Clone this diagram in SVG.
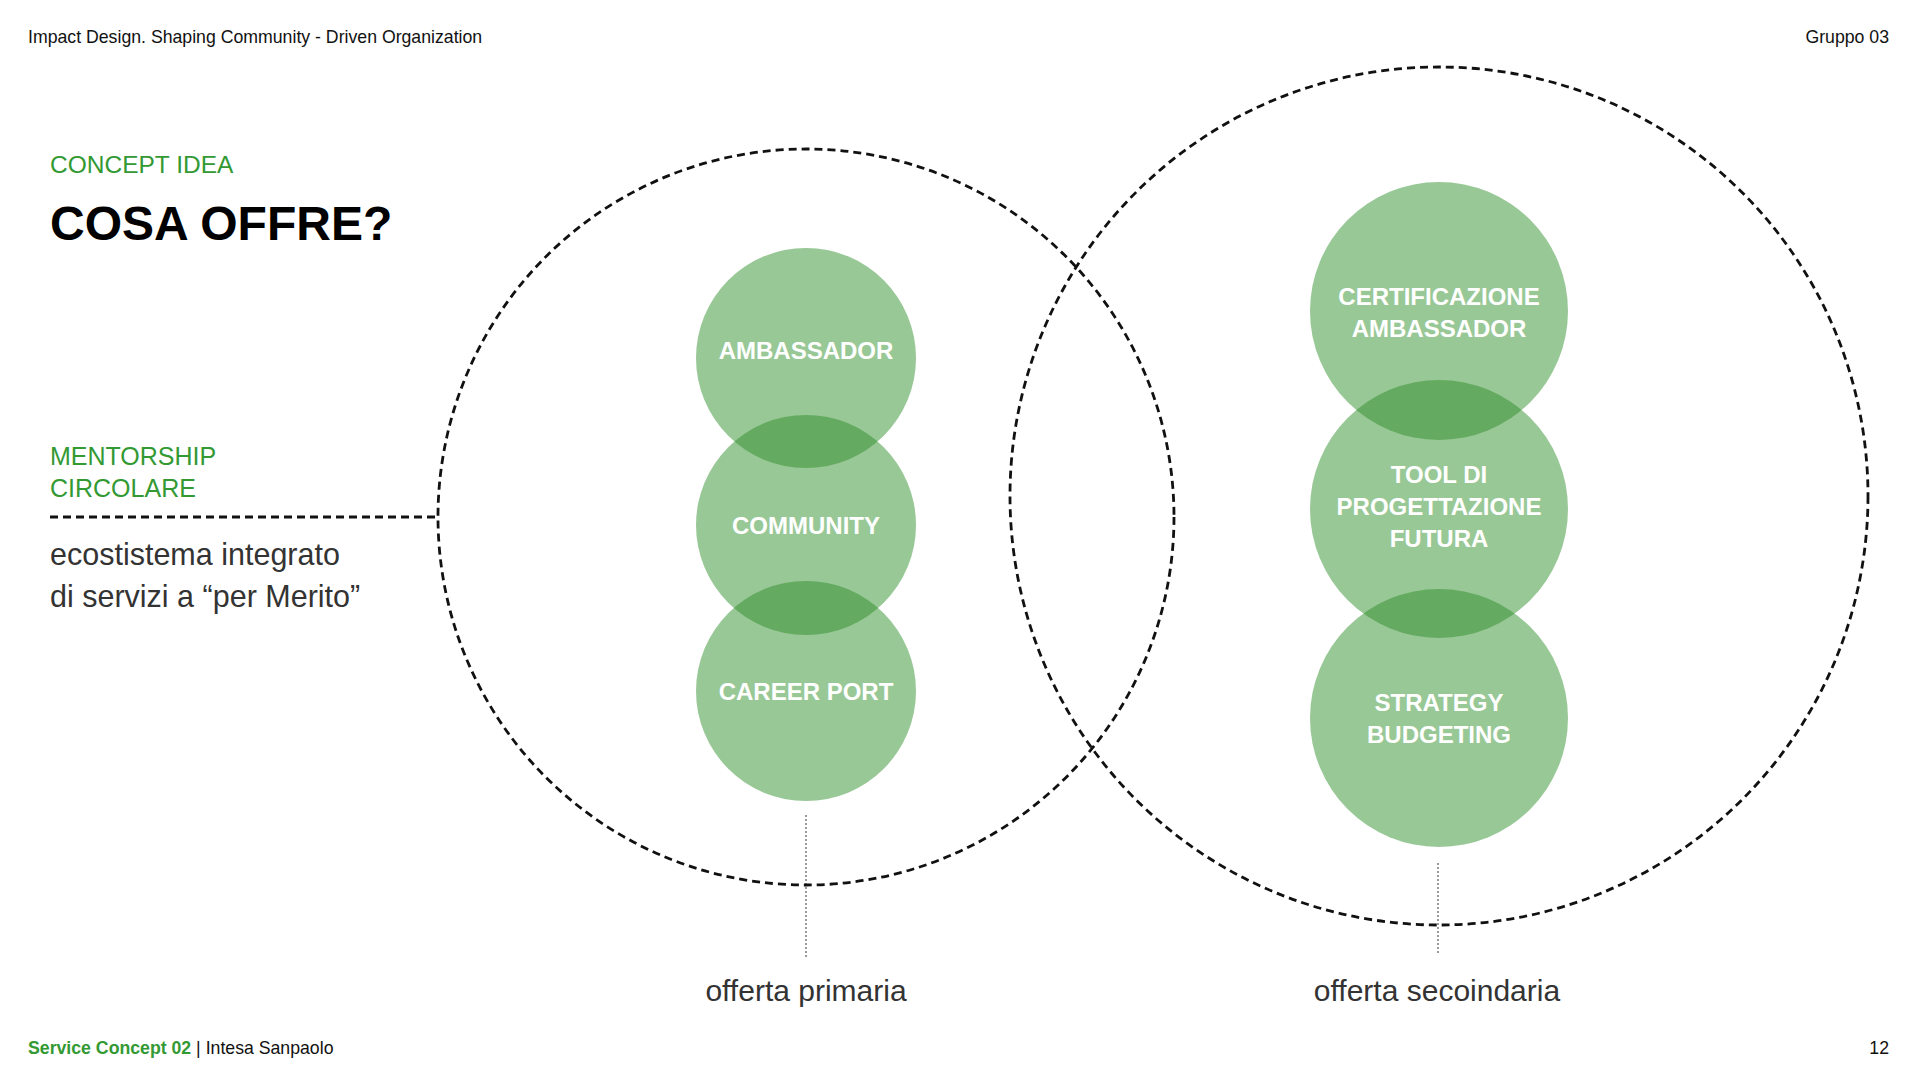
<svg xmlns="http://www.w3.org/2000/svg" width="1920" height="1080" viewBox="0 0 1920 1080">
<style>
text{font-family:"Liberation Sans",Arial,sans-serif}
.hdr{font-size:17.7px;fill:#111}
.green{fill:#339933}
.lbl{font-size:24px;font-weight:bold;fill:#fff;text-anchor:middle}
.sub{font-size:30.5px;fill:#333}
.cap{font-size:30px;fill:#333;text-anchor:middle}
.big{fill:none;stroke:#111;stroke-width:2.8;stroke-dasharray:8 5}
.node{fill:#2a8c26;fill-opacity:0.48}
.dot{stroke:#333;stroke-width:1;stroke-dasharray:2 2;fill:none}
</style>
<rect width="1920" height="1080" fill="#fff"/>
<text class="hdr" x="28" y="43">Impact Design. Shaping Community - Driven Organization</text>
<text class="hdr" x="1889" y="43" text-anchor="end">Gruppo 03</text>
<text class="green" x="50" y="173" font-size="24.5">CONCEPT IDEA</text>
<text x="50" y="240" font-size="48" font-weight="bold" fill="#000">COSA OFFRE?</text>
<text class="green" x="50" y="465" font-size="25">MENTORSHIP</text>
<text class="green" x="50" y="497" font-size="25">CIRCOLARE</text>
<text class="sub" x="50" y="565">ecostistema integrato</text>
<text class="sub" x="50" y="607">di servizi a “per Merito”</text>
<g id="connectors">
<line x1="50" y1="517" x2="437" y2="517" stroke="#111" stroke-width="2.8" stroke-dasharray="8 5"/>
<line class="dot" x1="806" y1="815" x2="806" y2="958"/>
<line class="dot" x1="1438" y1="863" x2="1438" y2="955"/>
</g>
<g id="offerta-primaria-area"><circle class="big" cx="806" cy="517" r="368"/></g>
<g id="offerta-secondaria-area"><circle class="big" cx="1439" cy="496" r="429"/></g>
<g id="ambassador"><circle class="node" cx="806" cy="358" r="110"/><text class="lbl" x="806" y="359">AMBASSADOR</text></g>
<g id="community"><circle class="node" cx="806" cy="525" r="110"/><text class="lbl" x="806" y="534">COMMUNITY</text></g>
<g id="career-port"><circle class="node" cx="806" cy="691" r="110"/><text class="lbl" x="806" y="700">CAREER PORT</text></g>
<g id="certificazione"><circle class="node" cx="1439" cy="311" r="129"/><text class="lbl" x="1439" y="305">CERTIFICAZIONE</text><text class="lbl" x="1439" y="337">AMBASSADOR</text></g>
<g id="tool"><circle class="node" cx="1439" cy="509" r="129"/><text class="lbl" x="1439" y="483">TOOL DI</text><text class="lbl" x="1439" y="515">PROGETTAZIONE</text><text class="lbl" x="1439" y="547">FUTURA</text></g>
<g id="strategy"><circle class="node" cx="1439" cy="718" r="129"/><text class="lbl" x="1439" y="711">STRATEGY</text><text class="lbl" x="1439" y="743">BUDGETING</text></g>
<text class="cap" x="806" y="1001">offerta primaria</text>
<text class="cap" x="1437" y="1001">offerta secoindaria</text>
<text class="hdr" x="28" y="1054"><tspan class="green" font-weight="bold">Service Concept 02</tspan> | Intesa Sanpaolo</text>
<text class="hdr" x="1889" y="1054" text-anchor="end">12</text>
</svg>
